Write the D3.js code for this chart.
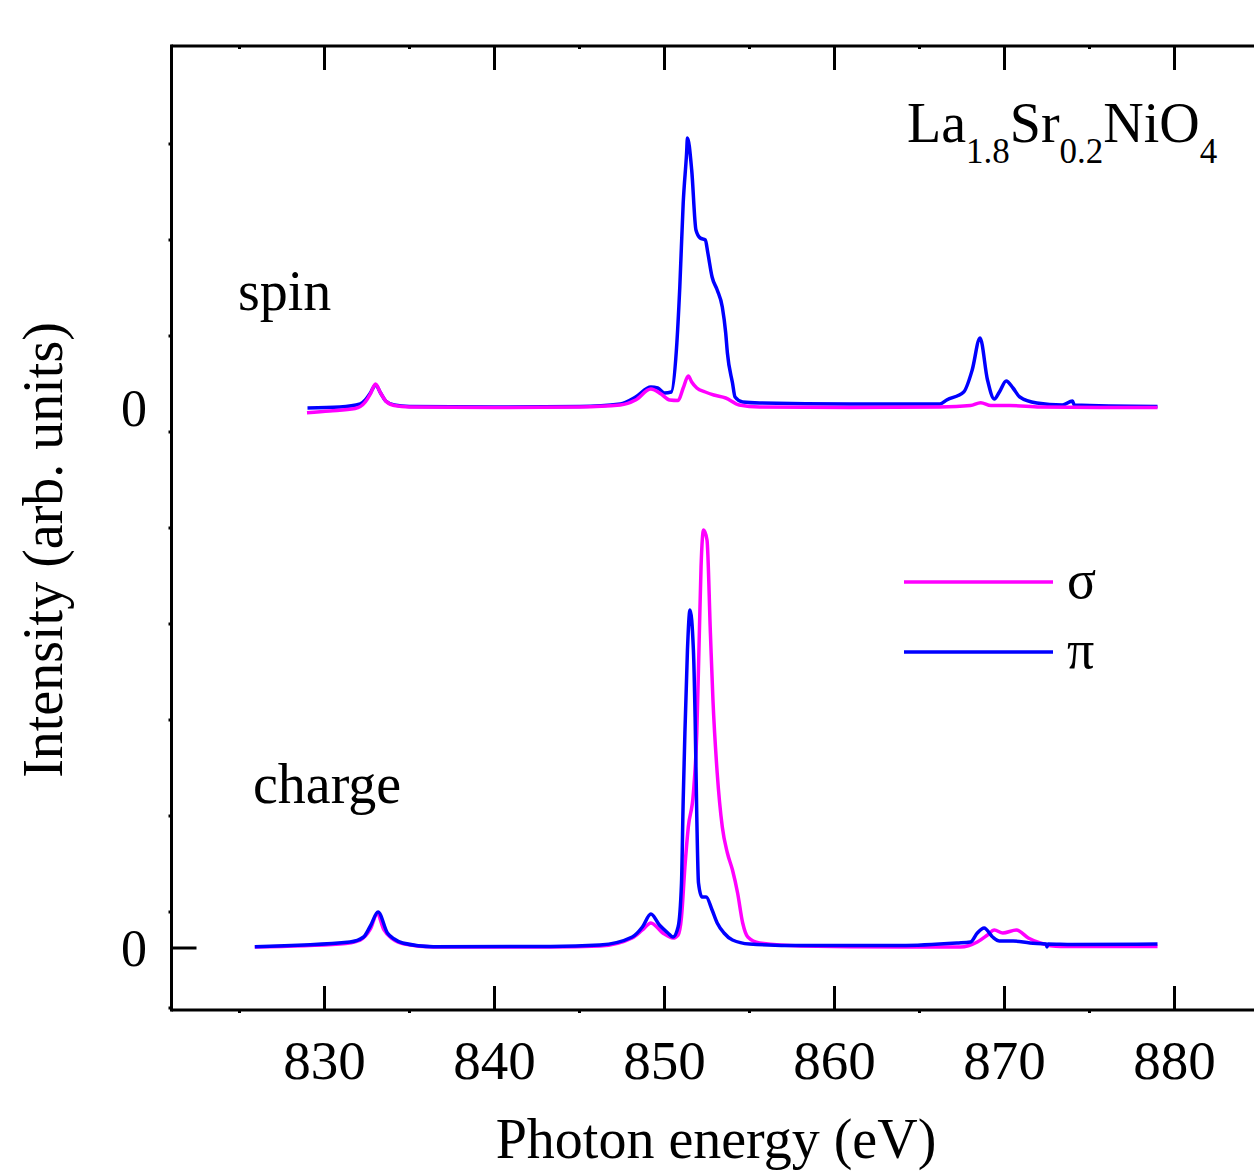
<!DOCTYPE html>
<html>
<head>
<meta charset="utf-8">
<script src="https://cdn.jsdelivr.net/npm/d3@7"></script>
<style>
  html, body { margin: 0; padding: 0; background: #fff; }
  svg text { font-family: "Liberation Serif", "Times New Roman", serif; fill: #000; }
</style>
</head>
<body>
<div id="chart"></div>
<script>
// x ticks (eV)
const xMajorTicks = [830, 840, 850, 860, 870, 880];
const xMinorTicks = [825, 835, 845, 855, 865, 875, 885];
const yMinorTicks = [-0.6, 0.36, 1.32, 2.28, 3.24, 4.2, 5.16, 6.12, 7.08, 8.04];
const spinOffset = 5.40;

// spin, sigma polarisation
const spinSigmaE = [828.97, 830.3, 831.8, 832.4, 832.7, 833.0, 833.3, 833.6, 834.1, 835.0, 840.0, 845.0, 847.4, 848.3, 849.2, 849.8, 850.3, 850.8, 851.1, 851.4, 851.6, 851.9, 852.4, 852.9, 853.6, 854.4, 855.6, 860.9, 866.2, 868.0, 868.6, 869.2, 870.3, 872.1, 875.6, 879.0];
const spinSigmaI = [-0.047, -0.03, -0.005, 0.06, 0.14, 0.24, 0.15, 0.07, 0.025, 0.01, 0.005, 0.01, 0.03, 0.08, 0.19, 0.14, 0.08, 0.075, 0.2, 0.32, 0.26, 0.20, 0.16, 0.13, 0.10, 0.03, 0.01, 0.005, 0.01, 0.025, 0.053, 0.025, 0.025, 0.01, 0.005, 0.005];

// spin, pi polarisation
const spinPiE = [829.0, 830.9, 832.1, 832.4, 832.7, 833.0, 833.3, 833.6, 834.1, 835.0, 840.0, 845.0, 847.4, 848.3, 849.2, 849.6, 850.0, 850.4, 850.7, 850.9, 851.1, 851.3, 851.35, 851.6, 851.85, 852.1, 852.4, 852.55, 852.8, 853.1, 853.4, 853.6, 853.7, 854.0, 854.15, 854.6, 855.6, 860.9, 866.2, 866.6, 867.6, 868.1, 868.56, 869.0, 869.4, 869.7, 870.1, 870.5, 870.9, 871.9, 873.4, 874.0, 874.1, 879.0];
const spinPiI = [0.0, 0.01, 0.04, 0.08, 0.15, 0.23, 0.15, 0.07, 0.03, 0.015, 0.01, 0.015, 0.04, 0.11, 0.21, 0.20, 0.15, 0.16, 0.58, 1.21, 2.05, 2.55, 2.70, 2.38, 1.78, 1.70, 1.68, 1.55, 1.31, 1.18, 1.01, 0.75, 0.55, 0.25, 0.11, 0.06, 0.05, 0.04, 0.04, 0.08, 0.16, 0.38, 0.70, 0.28, 0.09, 0.16, 0.27, 0.20, 0.11, 0.05, 0.03, 0.07, 0.03, 0.015];

// charge, sigma polarisation
const chargeSigmaE = [825.9, 830.9, 832.1, 832.7, 833.1, 833.5, 834.0, 834.7, 836.4, 843.3, 846.2, 848.1, 848.7, 849.2, 849.9, 850.5, 850.8, 851.0, 851.2, 851.4, 851.7, 851.9, 852.05, 852.15, 852.3, 852.5, 852.7, 852.85, 853.1, 853.4, 853.7, 854.0, 854.3, 854.6, 854.9, 855.6, 858.0, 863.9, 867.4, 868.4, 869.0, 869.4, 869.9, 870.7, 871.4, 872.1, 873.3, 879.0];
const chargeSigmaI = [0.01, 0.04, 0.08, 0.19, 0.34, 0.18, 0.09, 0.04, 0.01, 0.01, 0.02, 0.10, 0.18, 0.25, 0.15, 0.10, 0.13, 0.31, 0.81, 1.21, 1.55, 2.15, 3.15, 3.81, 4.18, 4.08, 3.15, 2.48, 1.75, 1.21, 0.95, 0.78, 0.55, 0.25, 0.11, 0.05, 0.02, 0.01, 0.01, 0.06, 0.13, 0.18, 0.15, 0.18, 0.10, 0.05, 0.015, 0.015];

// charge, pi polarisation
const chargePiE = [825.9, 831.5, 832.3, 832.7, 833.15, 833.7, 834.1, 834.6, 836.4, 843.3, 846.2, 848.1, 848.7, 849.2, 849.7, 850.2, 850.5, 850.8, 851.0, 851.1, 851.2, 851.35, 851.5, 851.7, 851.8, 851.9, 852.0, 852.2, 852.45, 852.8, 853.1, 853.5, 854.0, 855.0, 858.0, 863.9, 867.2, 868.0, 868.4, 868.8, 869.3, 869.7, 870.5, 871.5, 872.45, 872.5, 872.55, 874.0, 879.0];
const chargePiI = [0.013, 0.06, 0.11, 0.22, 0.36, 0.15, 0.09, 0.05, 0.013, 0.015, 0.03, 0.11, 0.21, 0.34, 0.23, 0.15, 0.11, 0.21, 0.65, 1.48, 2.15, 2.98, 3.38, 2.98, 2.31, 1.31, 0.65, 0.51, 0.51, 0.38, 0.25, 0.15, 0.08, 0.04, 0.025, 0.025, 0.05, 0.06, 0.15, 0.20, 0.11, 0.07, 0.07, 0.05, 0.04, 0.01, 0.04, 0.035, 0.04];

const legendItems = [
  { label: 'σ', color: '#ff00ff' },
  { label: 'π', color: '#0000ff' }
];

const width = 1254, height = 1171;

const svg = d3.select('#chart')
  .append('svg')
  .attr('width', width)
  .attr('height', height);

const x = d3.scaleLinear().domain([821, 886]).range([171.5, 1276.5]);
const y = d3.scaleLinear().domain([-0.62, 9.02]).range([1010, 46]);

const zip = (es, is, off) => es.map((e, i) => [e, is[i] + off]);

const line = d3.line()
  .curve(d3.curveMonotoneX)
  .x(d => x(d[0]))
  .y(d => y(d[1]));

const curves = [
  { data: zip(spinPiE, spinPiI, spinOffset), color: '#0000ff' },
  { data: zip(spinSigmaE, spinSigmaI, spinOffset), color: '#ff00ff' },
  { data: zip(chargeSigmaE, chargeSigmaI, 0), color: '#ff00ff' },
  { data: zip(chargePiE, chargePiI, 0), color: '#0000ff' }
];

svg.append('g')
  .selectAll('path')
  .data(curves)
  .join('path')
  .attr('d', d => line(d.data))
  .attr('fill', 'none')
  .attr('stroke', d => d.color)
  .attr('stroke-width', 3.5)
  .attr('stroke-linejoin', 'round');

// frame
const axisG = svg.append('g').attr('stroke', '#000').attr('stroke-width', 3);
axisG.append('line').attr('x1', x(821)).attr('x2', x(886)).attr('y1', y(-0.62)).attr('y2', y(-0.62));
axisG.append('line').attr('x1', x(821)).attr('x2', x(886)).attr('y1', y(9.02)).attr('y2', y(9.02));
axisG.append('line').attr('x1', x(821)).attr('x2', x(821)).attr('y1', y(-0.62) + 1.5).attr('y2', y(9.02) - 1.5);

// major x ticks, inward on bottom and top
axisG.selectAll('.xb').data(xMajorTicks).join('line')
  .attr('x1', d => x(d)).attr('x2', d => x(d))
  .attr('y1', y(-0.62)).attr('y2', y(-0.62) - 24);
axisG.selectAll('.xt').data(xMajorTicks).join('line')
  .attr('x1', d => x(d)).attr('x2', d => x(d))
  .attr('y1', y(9.02)).attr('y2', y(9.02) + 24);
// minor x ticks, tiny
axisG.selectAll('.xmb').data(xMinorTicks).join('line')
  .attr('x1', d => x(d)).attr('x2', d => x(d))
  .attr('y1', y(-0.62)).attr('y2', y(-0.62) + 3);
axisG.selectAll('.xmt').data(xMinorTicks).join('line')
  .attr('x1', d => x(d)).attr('x2', d => x(d))
  .attr('y1', y(9.02)).attr('y2', y(9.02) + 3);
// minor y ticks, tiny
axisG.selectAll('.ym').data(yMinorTicks).join('line')
  .attr('x1', x(821) - 3).attr('x2', x(821))
  .attr('y1', d => y(d)).attr('y2', d => y(d));
// zero tick of charge
axisG.append('line')
  .attr('x1', x(821)).attr('x2', x(821) + 25)
  .attr('y1', y(0)).attr('y2', y(0));

// tick labels
svg.append('g')
  .selectAll('text')
  .data(xMajorTicks)
  .join('text')
  .attr('x', d => x(d))
  .attr('y', 1079)
  .attr('text-anchor', 'middle')
  .attr('font-size', 55)
  .text(d => d);

svg.append('g')
  .selectAll('text')
  .data([0, spinOffset])
  .join('text')
  .attr('x', 147)
  .attr('y', d => y(d) + 18)
  .attr('text-anchor', 'end')
  .attr('font-size', 52)
  .text('0');

// axis titles
svg.append('text')
  .attr('x', 716)
  .attr('y', 1158)
  .attr('text-anchor', 'middle')
  .attr('font-size', 56)
  .text('Photon energy (eV)');

svg.append('text')
  .attr('transform', 'translate(62,550) rotate(-90)')
  .attr('text-anchor', 'middle')
  .attr('font-size', 56)
  .text('Intensity (arb. units)');

// annotations
svg.append('text').attr('x', 238).attr('y', 310).attr('font-size', 56).text('spin');
svg.append('text').attr('x', 253).attr('y', 803).attr('font-size', 56).text('charge');

const formula = svg.append('text').attr('x', 907).attr('y', 142).attr('font-size', 56);
const parts = [['La', false], ['1.8', true], ['Sr', false], ['0.2', true], ['NiO', false], ['4', true]];
parts.forEach(([t, sub]) => {
  formula.append('tspan')
    .attr('font-size', sub ? 35 : 56)
    .attr('dy', sub ? 21 : -21)
    .text(t);
});
formula.select('tspan').attr('dy', 0);

// legend
const legend = svg.append('g').attr('transform', 'translate(904,582)');
const li = legend.selectAll('g').data(legendItems).join('g')
  .attr('transform', (d, i) => `translate(0,${i * 70})`);
li.append('line')
  .attr('x1', 0).attr('x2', 149).attr('y1', 0).attr('y2', 0)
  .attr('stroke', d => d.color).attr('stroke-width', 3.5);
li.append('text')
  .attr('x', 163).attr('y', 16)
  .attr('font-size', 54)
  .text(d => d.label);
</script>
</body>
</html>
